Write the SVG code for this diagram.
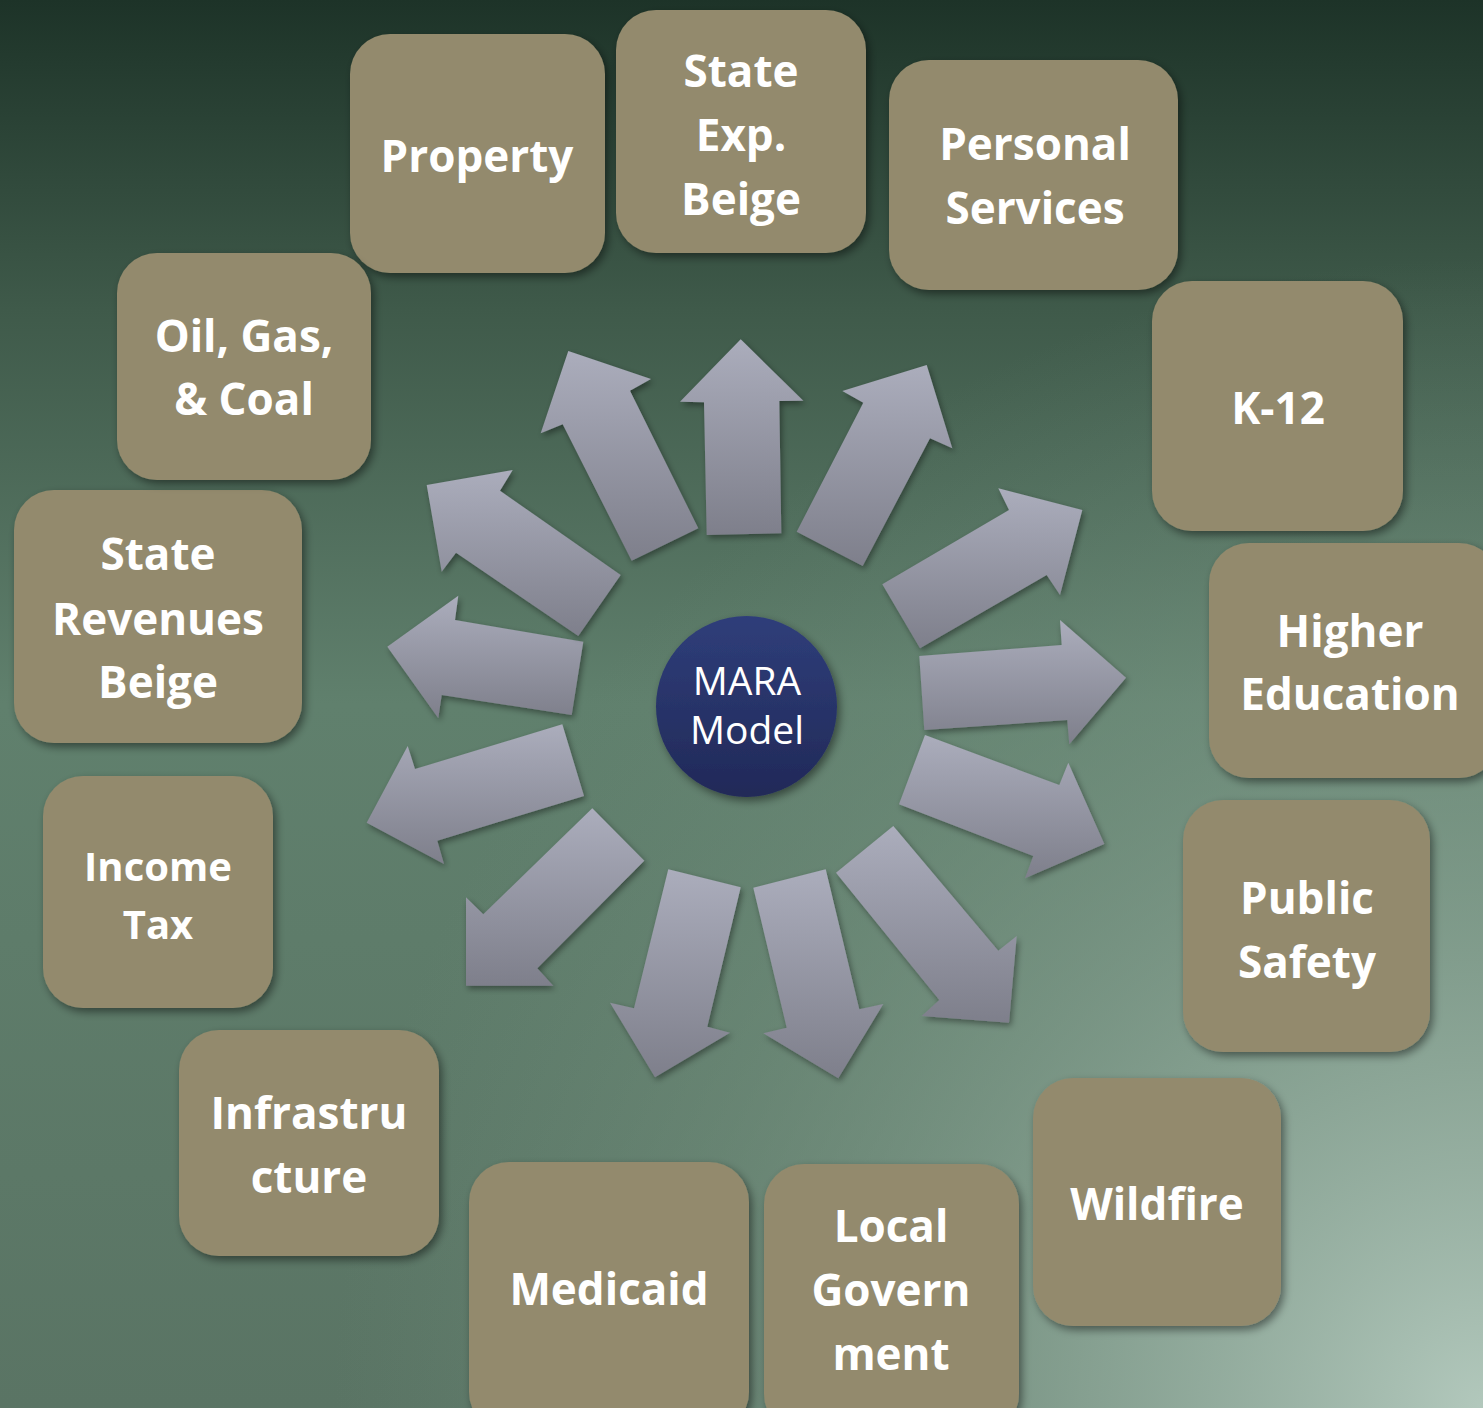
<svg xmlns="http://www.w3.org/2000/svg" width="1483" height="1408" viewBox="0 0 1483 1408">
<defs>
<linearGradient id="bgv" x1="0" y1="0" x2="0" y2="1">
<stop offset="0" stop-color="#1d3328"/>
<stop offset="0.22" stop-color="#3f5a4a"/>
<stop offset="0.5" stop-color="#60806d"/>
<stop offset="1" stop-color="#5a7464"/>
</linearGradient>
<radialGradient id="bgr" gradientUnits="userSpaceOnUse" cx="1483" cy="1408" r="1150">
<stop offset="0" stop-color="#b2c8bc" stop-opacity="1"/>
<stop offset="0.35" stop-color="#90aa9b" stop-opacity="0.8"/>
<stop offset="0.7" stop-color="#789583" stop-opacity="0.4"/>
<stop offset="1" stop-color="#6d8a7a" stop-opacity="0"/>
</radialGradient>
<linearGradient id="arr" x1="0" y1="0" x2="0" y2="1">
<stop offset="0" stop-color="#abadbc"/>
<stop offset="1" stop-color="#7e7f8b"/>
</linearGradient>
<linearGradient id="circ" x1="0" y1="0" x2="0" y2="1">
<stop offset="0" stop-color="#2f3e7a"/>
<stop offset="1" stop-color="#212958"/>
</linearGradient>
<filter id="sh" x="-20%" y="-20%" width="140%" height="140%">
<feDropShadow dx="3" dy="4" stdDeviation="4" flood-color="#000" flood-opacity="0.45"/>
</filter>
<filter id="ash" x="-20%" y="-20%" width="140%" height="140%">
<feDropShadow dx="2" dy="3" stdDeviation="3" flood-color="#000" flood-opacity="0.4"/>
</filter>
<style>
.box{fill:#938a6d;filter:url(#sh)}
.lbl{font-family:"Open Sans","Noto Sans","Liberation Sans",sans-serif;font-weight:bold;font-size:44px;fill:#fff;text-anchor:middle}
.a{fill:url(#arr);filter:url(#ash)}
.mara{font-family:"Open Sans","Noto Sans","Liberation Sans",sans-serif;font-size:39px;fill:#fff;text-anchor:middle}
</style>
</defs>
<rect width="1483" height="1408" fill="url(#bgv)"/>
<rect width="1483" height="1408" fill="url(#bgr)"/>

<g id="connectors">
<polygon class="a" points="706.7,535 704,402.3 680,401.7 740.7,339.3 803.3,400.7 779.3,401 781.3,533.3"/>
<polygon class="a" points="698.3,528.3 630,390.7 651,379 568.3,351 540.7,433.3 562.7,424.3 631.7,560.7"/>
<polygon class="a" points="796.7,531.7 863.3,402.7 842.3,391 926.7,365 952.3,448.3 930,438.3 862.7,566"/>
<polygon class="a" points="882.3,584.3 1009,510 998.3,488.3 1082.3,510 1060,595 1046.7,575 920,648.3"/>
<polygon class="a" points="919.3,656 1061.7,645 1060,620 1126,677.7 1069.3,744.3 1067.3,720 924.3,730"/>
<polygon class="a" points="925,735 1059.3,785 1068.3,762.7 1104.3,844 1025,878.3 1033.3,856 899,804.3"/>
<polygon class="a" points="893.3,826 998.3,950.7 1016.7,936 1009,1022.7 921.7,1016 939.3,1000 836,872.7"/>
<polygon class="a" points="825.7,869.3 859.3,1009.3 883.3,1004 838.3,1078.3 763.3,1033.3 786.7,1027.7 753.3,887.7"/>
<polygon class="a" points="740.7,887.3 707.3,1026.7 730,1032.7 655,1077.3 610,1002.7 634,1008.3 668.3,869.3"/>
<polygon class="a" points="644.3,860.7 537.3,968.3 553.3,985.7 466,985.7 466,897.3 483.3,914.3 592.3,808.3"/>
<polygon class="a" points="584,796 437.3,840.7 444,864 366.7,822.7 407.7,746 415,769 562.3,724.3"/>
<polygon class="a" points="571.7,715 441.7,695 438.3,718.3 387.3,646.7 458.3,595.7 455,620 583.3,641.7"/>
<polygon class="a" points="578.3,636 456,552.7 441.7,571.7 426.7,485 512.7,470 500,490.7 620.7,575"/>
</g>

<g id="mara">
<circle cx="746.5" cy="706.5" r="90.5" fill="url(#circ)" filter="url(#sh)"/>
<text class="mara" x="747" y="695">MARA</text>
<text class="mara" x="747" y="744">Model</text>
</g>

<g id="property">
<rect class="box" x="350" y="34" width="255" height="239" rx="40"/>
<text class="lbl" x="477" y="172">Property</text>
</g>
<g id="state-exp">
<rect class="box" x="616" y="10" width="250" height="243" rx="40"/>
<text class="lbl" x="741" y="87">State</text>
<text class="lbl" x="741" y="151">Exp.</text>
<text class="lbl" x="741" y="215">Beige</text>
</g>
<g id="personal-services">
<rect class="box" x="889" y="60" width="289" height="230" rx="40"/>
<text class="lbl" x="1035" y="160">Personal</text>
<text class="lbl" x="1035" y="224">Services</text>
</g>
<g id="k12">
<rect class="box" x="1152" y="281" width="251" height="250" rx="40"/>
<text class="lbl" x="1278" y="424">K-12</text>
</g>
<g id="higher-education">
<rect class="box" x="1209" y="543" width="290" height="235" rx="40"/>
<text class="lbl" x="1350" y="647">Higher</text>
<text class="lbl" x="1350" y="710">Education</text>
</g>
<g id="public-safety">
<rect class="box" x="1183" y="800" width="247" height="252" rx="40"/>
<text class="lbl" x="1307" y="914">Public</text>
<text class="lbl" x="1307" y="978">Safety</text>
</g>
<g id="wildfire">
<rect class="box" x="1033" y="1078" width="248" height="248" rx="40"/>
<text class="lbl" x="1157" y="1220">Wildfire</text>
</g>
<g id="local-government">
<rect class="box" x="764" y="1164" width="255" height="270" rx="40"/>
<text class="lbl" x="891" y="1242">Local</text>
<text class="lbl" x="891" y="1306">Govern</text>
<text class="lbl" x="891" y="1370">ment</text>
</g>
<g id="medicaid">
<rect class="box" x="469" y="1162" width="280" height="270" rx="40"/>
<text class="lbl" x="609" y="1305">Medicaid</text>
</g>
<g id="infrastructure">
<rect class="box" x="179" y="1030" width="260" height="226" rx="40"/>
<text class="lbl" x="309" y="1129">Infrastru</text>
<text class="lbl" x="309" y="1193">cture</text>
</g>
<g id="income-tax">
<rect class="box" x="43" y="776" width="230" height="232" rx="40"/>
<text class="lbl" x="158" y="881" style="font-size:40px">Income</text>
<text class="lbl" x="158" y="939" style="font-size:40px">Tax</text>
</g>
<g id="state-revenues">
<rect class="box" x="14" y="490" width="288" height="253" rx="40"/>
<text class="lbl" x="158" y="570">State</text>
<text class="lbl" x="158" y="635">Revenues</text>
<text class="lbl" x="158" y="698">Beige</text>
</g>
<g id="oil-gas-coal">
<rect class="box" x="117" y="253" width="254" height="227" rx="40"/>
<text class="lbl" x="244" y="352">Oil, Gas,</text>
<text class="lbl" x="244" y="415">&amp; Coal</text>
</g>
</svg>
